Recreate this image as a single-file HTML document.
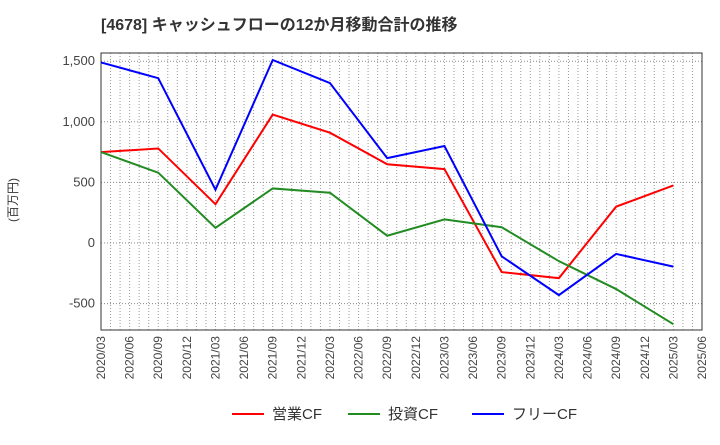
<!DOCTYPE html>
<html><head><meta charset="utf-8"><style>
body{margin:0;background:#fff;font-family:"Liberation Sans","Noto Sans CJK JP",sans-serif;}
</style></head><body>
<svg id="c" width="720" height="440" xmlns="http://www.w3.org/2000/svg">
<text x="101" y="30" font-size="16" font-weight="bold" fill="#333" font-family="Liberation Sans, Noto Sans CJK JP, sans-serif">[4678]  キャッシュフローの12か月移動合計の推移</text>
<text transform="translate(17,200) rotate(-90)" text-anchor="middle" font-size="12" fill="#333" font-family="Liberation Sans, Noto Sans CJK JP, sans-serif">(百万円)</text>
<g id="grid"></g><g id="axes"></g><g id="series"></g><g id="legend"></g>
</svg>
<script>
const xLabels=["2020/03","2020/06","2020/09","2020/12","2021/03","2021/06","2021/09","2021/12","2022/03","2022/06","2022/09","2022/12","2023/03","2023/06","2023/09","2023/12","2024/03","2024/06","2024/09","2024/12","2025/03","2025/06"];
const pointIdx=[0,2,4,6,8,10,12,14,16,18,20];
const opCF=[750,780,320,1060,910,650,610,-240,-290,300,475];
const invCF=[750,580,125,450,415,60,195,130,-150,-380,-670];
const freeCF=[1490,1360,440,1510,1320,700,800,-110,-430,-90,-195];
const yTicks=[-500,0,500,1000,1500];
const yTickLabels=["-500","0","500","1,000","1,500"];
const L=101,R=702,T=53,B=330;
const NS="http://www.w3.org/2000/svg";
const x=i=>L+i*(R-L)/21;
const y=v=>243-v*0.1212;
function mk(tag,attrs,parent){const e=document.createElementNS(NS,tag);for(const k in attrs)e.setAttribute(k,attrs[k]);document.getElementById(parent).appendChild(e);return e;}
for(let m=1;m<63;m++){const xx=L+m*(R-L)/63;
const g=mk('line',{x1:xx,x2:xx,y1:T,y2:B,stroke:'#999','stroke-dasharray':'1,2','stroke-width':1},'grid');

}
yTicks.forEach((v,i)=>{
const g=mk('line',{x1:L,x2:R,y1:y(v),y2:y(v),stroke:'#888','stroke-dasharray':'1,2','stroke-width':1},'grid');


const t=mk('text',{x:L-6,y:y(v)+4,'text-anchor':'end','font-size':13,fill:'#444'},'axes');
t.textContent=yTickLabels[i];

});
const fr=mk('rect',{x:L,y:T,width:R-L,height:B-T,fill:'none',stroke:'#333','stroke-width':1},'axes');


xLabels.forEach((s,i)=>{
const t=mk('text',{x:0,y:0,transform:`translate(${x(i)+4},${B+6}) rotate(-90)`,'text-anchor':'end','font-size':12,fill:'#444'},'axes');
t.textContent=s;

});
const series=[[opCF,'#f00','operating-cf-line','営業CF'],[invCF,'#228b22','investing-cf-line','投資CF'],[freeCF,'#00f','free-cf-line','フリーCF']];
series.forEach(([d,c,n])=>{
const p=mk('polyline',{points:d.map((v,i)=>x(pointIdx[i])+','+y(v)).join(' '),fill:'none',stroke:c,'stroke-width':2},'series');

});
const lx=[232,348,472];
series.forEach(([d,c,n,lab],i)=>{
const l=mk('line',{x1:lx[i],x2:lx[i]+32,y1:414,y2:414,stroke:c,'stroke-width':2},'legend');


const t=mk('text',{x:lx[i]+40,y:419,'font-size':15,fill:'#333'},'legend');
t.textContent=lab;

});
</script>
</body></html>
